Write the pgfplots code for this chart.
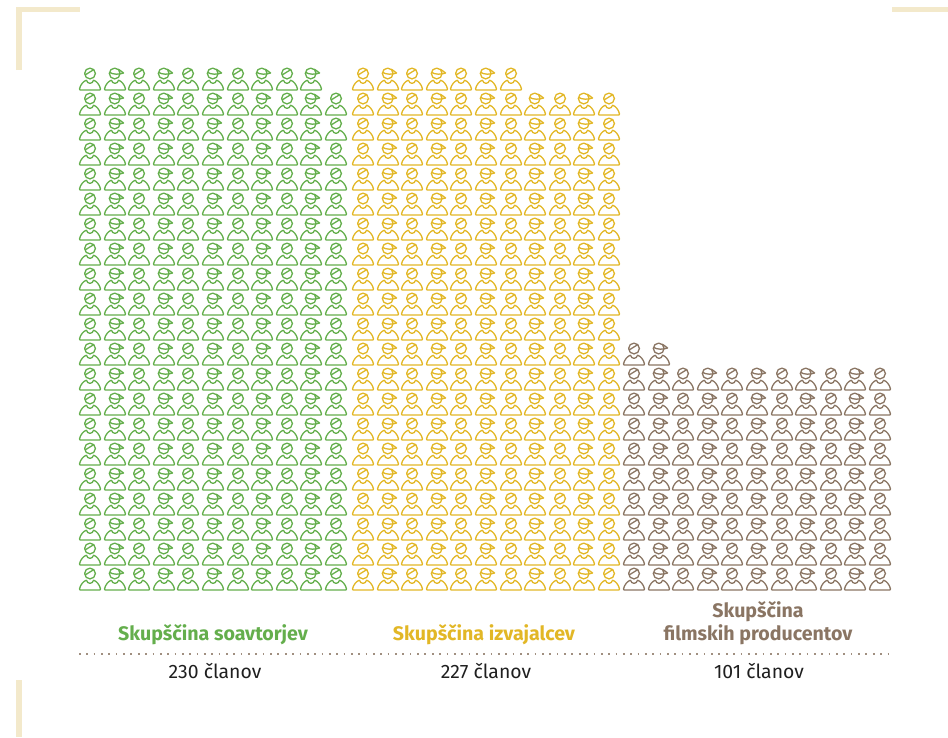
\documentclass[border=0pt]{standalone}
\usepackage{pgfplots}
\pgfplotsset{compat=1.18}
\usepackage{fontspec}
\setmainfont{Fira Sans}
\definecolor{cg}{HTML}{64AE4C}
\definecolor{cy}{HTML}{E2B726}
\definecolor{cb}{HTML}{8A7563}
\definecolor{cc}{HTML}{F3E9CB}
\definecolor{cd}{HTML}{A08F80}
\definecolor{ct}{HTML}{1F1F1F}
\pgfdeclareplotmark{body}{%
  \pgfpathmoveto{\pgfpoint{-3.6pt}{-1.2pt}}
  \pgfpathcurveto{\pgfpoint{-2.4pt}{-5.4pt}}{\pgfpoint{2.4pt}{-5.4pt}}{\pgfpoint{3.6pt}{-1.2pt}}
  \pgfpathcurveto{\pgfpoint{6.5pt}{-2.2pt}}{\pgfpoint{9.6pt}{-5.5pt}}{\pgfpoint{10.5pt}{-10pt}}
  \pgfpathcurveto{\pgfpoint{10.6pt}{-10.6pt}}{\pgfpoint{10.3pt}{-10.9pt}}{\pgfpoint{10pt}{-10.9pt}}
  \pgfpathlineto{\pgfpoint{-10pt}{-10.9pt}}
  \pgfpathcurveto{\pgfpoint{-10.3pt}{-10.9pt}}{\pgfpoint{-10.6pt}{-10.6pt}}{\pgfpoint{-10.5pt}{-10pt}}
  \pgfpathcurveto{\pgfpoint{-9.6pt}{-5.5pt}}{\pgfpoint{-6.5pt}{-2.2pt}}{\pgfpoint{-3.6pt}{-1.2pt}}
  \pgfusepathqstroke}
\pgfdeclareplotmark{male}{%
  \pgfuseplotmark{body}
  \pgfpathcircle{\pgfpoint{0pt}{5.5pt}}{5.4pt}
  \pgfpathmoveto{\pgfpoint{-4.8pt}{4.1pt}}
  \pgfpathlineto{\pgfpoint{3.8pt}{9.4pt}}
  \pgfusepathqstroke}
\pgfdeclareplotmark{female}{%
  \pgfuseplotmark{body}
  \pgfpathcircle{\pgfpoint{-0.3pt}{5.5pt}}{5.4pt}
  \pgfpathmoveto{\pgfpoint{-5.5pt}{6.8pt}}
  \pgfpathcurveto{\pgfpoint{-2pt}{4.2pt}}{\pgfpoint{4pt}{4.4pt}}{\pgfpoint{8.6pt}{6pt}}
  \pgfpathcurveto{\pgfpoint{7pt}{7.2pt}}{\pgfpoint{5.5pt}{8.4pt}}{\pgfpoint{3.4pt}{9.8pt}}
  \pgfusepathqstroke}
\pgfplotsset{
  icon/.style={only marks,mark=#1,mark options={solid,line width=1.3pt,line cap=round,line join=round}}
}
\begin{document}
\begin{tikzpicture}
\begin{axis}[
  scale only axis,width=948pt,height=737pt,
  xmin=0,xmax=948,ymin=0,ymax=737,y dir=reverse,
  hide axis,clip=false]
\path[use as bounding box] (axis cs:0,0) rectangle (axis cs:948,737);
% corner decorations
\addplot[cc,line width=5.5pt,forget plot] coordinates {(19,70)(19,9.5)(80,9.5)};
\addplot[cc,line width=5.5pt,forget plot] coordinates {(892,9.5)(948,9.5)};
\addplot[cc,line width=5.5pt,forget plot] coordinates {(19,680)(19,737)};
% Skupscina soavtorjev: 230
\addplot[cg,icon=male] coordinates {
(90,79)(139,79)(188,79)(238,79)(287,79)
(90,104)(139,104)(188,104)(238,104)(287,104)(336,104)
(90,129)(139,129)(188,129)(238,129)(287,129)(336,129)
(90,154)(139,154)(188,154)(238,154)(287,154)(336,154)
(90,179)(139,179)(188,179)(238,179)(287,179)(336,179)
(90,204)(139,204)(188,204)(238,204)(287,204)(336,204)
(90,229)(139,229)(188,229)(238,229)(287,229)(336,229)
(90,254)(139,254)(188,254)(238,254)(287,254)(336,254)
(90,279)(139,279)(188,279)(238,279)(287,279)(336,279)
(90,304)(139,304)(188,304)(238,304)(287,304)(336,304)
(90,329)(139,329)(188,329)(238,329)(287,329)(336,329)
(90,354)(139,354)(188,354)(238,354)(287,354)(336,354)
(90,379)(139,379)(188,379)(238,379)(287,379)(336,379)
(90,404)(139,404)(188,404)(238,404)(287,404)(336,404)
(90,429)(139,429)(188,429)(238,429)(287,429)(336,429)
(90,454)(139,454)(188,454)(238,454)(287,454)(336,454)
(90,479)(139,479)(188,479)(238,479)(287,479)(336,479)
(90,504)(139,504)(188,504)(238,504)(287,504)(336,504)
(90,529)(139,529)(188,529)(238,529)(287,529)(336,529)
(90,554)(139,554)(188,554)(238,554)(287,554)(336,554)
(90,579)(139,579)(188,579)(238,579)(287,579)(336,579)
};
\addplot[cg,icon=female] coordinates {
(115,79)(164,79)(213,79)(262,79)(311,79)
(115,104)(164,104)(213,104)(262,104)(311,104)
(115,129)(164,129)(213,129)(262,129)(311,129)
(115,154)(164,154)(213,154)(262,154)(311,154)
(115,179)(164,179)(213,179)(262,179)(311,179)
(115,204)(164,204)(213,204)(262,204)(311,204)
(115,229)(164,229)(213,229)(262,229)(311,229)
(115,254)(164,254)(213,254)(262,254)(311,254)
(115,279)(164,279)(213,279)(262,279)(311,279)
(115,304)(164,304)(213,304)(262,304)(311,304)
(115,329)(164,329)(213,329)(262,329)(311,329)
(115,354)(164,354)(213,354)(262,354)(311,354)
(115,379)(164,379)(213,379)(262,379)(311,379)
(115,404)(164,404)(213,404)(262,404)(311,404)
(115,429)(164,429)(213,429)(262,429)(311,429)
(115,454)(164,454)(213,454)(262,454)(311,454)
(115,479)(164,479)(213,479)(262,479)(311,479)
(115,504)(164,504)(213,504)(262,504)(311,504)
(115,529)(164,529)(213,529)(262,529)(311,529)
(115,554)(164,554)(213,554)(262,554)(311,554)
(115,579)(164,579)(213,579)(262,579)(311,579)
};
% Skupscina izvajalcev: 227
\addplot[cy,icon=male] coordinates {
(363,79)(412,79)(461,79)(511,79)
(363,104)(412,104)(461,104)(511,104)(560,104)(609,104)
(363,129)(412,129)(461,129)(511,129)(560,129)(609,129)
(363,154)(412,154)(461,154)(511,154)(560,154)(609,154)
(363,179)(412,179)(461,179)(511,179)(560,179)(609,179)
(363,204)(412,204)(461,204)(511,204)(560,204)(609,204)
(363,229)(412,229)(461,229)(511,229)(560,229)(609,229)
(363,254)(412,254)(461,254)(511,254)(560,254)(609,254)
(363,279)(412,279)(461,279)(511,279)(560,279)(609,279)
(363,304)(412,304)(461,304)(511,304)(560,304)(609,304)
(363,329)(412,329)(461,329)(511,329)(560,329)(609,329)
(363,354)(412,354)(461,354)(511,354)(560,354)(609,354)
(363,379)(412,379)(461,379)(511,379)(560,379)(609,379)
(363,404)(412,404)(461,404)(511,404)(560,404)(609,404)
(363,429)(412,429)(461,429)(511,429)(560,429)(609,429)
(363,454)(412,454)(461,454)(511,454)(560,454)(609,454)
(363,479)(412,479)(461,479)(511,479)(560,479)(609,479)
(363,504)(412,504)(461,504)(511,504)(560,504)(609,504)
(363,529)(412,529)(461,529)(511,529)(560,529)(609,529)
(363,554)(412,554)(461,554)(511,554)(560,554)(609,554)
(363,579)(412,579)(461,579)(511,579)(560,579)(609,579)
};
\addplot[cy,icon=female] coordinates {
(388,79)(437,79)(486,79)
(388,104)(437,104)(486,104)(535,104)(584,104)
(388,129)(437,129)(486,129)(535,129)(584,129)
(388,154)(437,154)(486,154)(535,154)(584,154)
(388,179)(437,179)(486,179)(535,179)(584,179)
(388,204)(437,204)(486,204)(535,204)(584,204)
(388,229)(437,229)(486,229)(535,229)(584,229)
(388,254)(437,254)(486,254)(535,254)(584,254)
(388,279)(437,279)(486,279)(535,279)(584,279)
(388,304)(437,304)(486,304)(535,304)(584,304)
(388,329)(437,329)(486,329)(535,329)(584,329)
(388,354)(437,354)(486,354)(535,354)(584,354)
(388,379)(437,379)(486,379)(535,379)(584,379)
(388,404)(437,404)(486,404)(535,404)(584,404)
(388,429)(437,429)(486,429)(535,429)(584,429)
(388,454)(437,454)(486,454)(535,454)(584,454)
(388,479)(437,479)(486,479)(535,479)(584,479)
(388,504)(437,504)(486,504)(535,504)(584,504)
(388,529)(437,529)(486,529)(535,529)(584,529)
(388,554)(437,554)(486,554)(535,554)(584,554)
(388,579)(437,579)(486,579)(535,579)(584,579)
};
% Skupscina filmskih producentov: 101
\addplot[cb,icon=male] coordinates {
(634,354)
(634,379)(683,379)(732,379)(782,379)(831,379)(880,379)
(634,404)(683,404)(732,404)(782,404)(831,404)(880,404)
(634,429)(683,429)(732,429)(782,429)(831,429)(880,429)
(634,454)(683,454)(732,454)(782,454)(831,454)(880,454)
(634,479)(683,479)(732,479)(782,479)(831,479)(880,479)
(634,504)(683,504)(732,504)(782,504)(831,504)(880,504)
(634,529)(683,529)(732,529)(782,529)(831,529)(880,529)
(634,554)(683,554)(732,554)(782,554)(831,554)(880,554)
(634,579)(683,579)(732,579)(782,579)(831,579)(880,579)
};
\addplot[cb,icon=female] coordinates {
(659,354)
(659,379)(708,379)(757,379)(806,379)(855,379)
(659,404)(708,404)(757,404)(806,404)(855,404)
(659,429)(708,429)(757,429)(806,429)(855,429)
(659,454)(708,454)(757,454)(806,454)(855,454)
(659,479)(708,479)(757,479)(806,479)(855,479)
(659,504)(708,504)(757,504)(806,504)(855,504)
(659,529)(708,529)(757,529)(806,529)(855,529)
(659,554)(708,554)(757,554)(806,554)(855,554)
(659,579)(708,579)(757,579)(806,579)(855,579)
};
% separator
\addplot[cd,line width=1.7pt,dash pattern=on 1.7pt off 5.65pt,forget plot] coordinates {(79,654)(893,654)};
\node[text=cg,font=\fontsize{19.6}{22}\selectfont\bfseries,anchor=base] at (axis cs:213,640) {Skupščina soavtorjev};
\node[text=cy,font=\fontsize{19.6}{22}\selectfont\bfseries,anchor=base] at (axis cs:484,640) {Skupščina izvajalcev};
\node[text=cb,font=\fontsize{19.6}{22}\selectfont\bfseries,anchor=base] at (axis cs:758,617) {Skupščina};
\node[text=cb,font=\fontsize{19.6}{22}\selectfont\bfseries,anchor=base] at (axis cs:758,640) {filmskih producentov};
\node[text=ct,font=\fontsize{19.4}{22}\selectfont,anchor=base] at (axis cs:215,678) {230 članov};
\node[text=ct,font=\fontsize{19.4}{22}\selectfont,anchor=base] at (axis cs:486,678) {227 članov};
\node[text=ct,font=\fontsize{19.4}{22}\selectfont,anchor=base] at (axis cs:759,678) {101 članov};
\end{axis}
\end{tikzpicture}
\end{document}
